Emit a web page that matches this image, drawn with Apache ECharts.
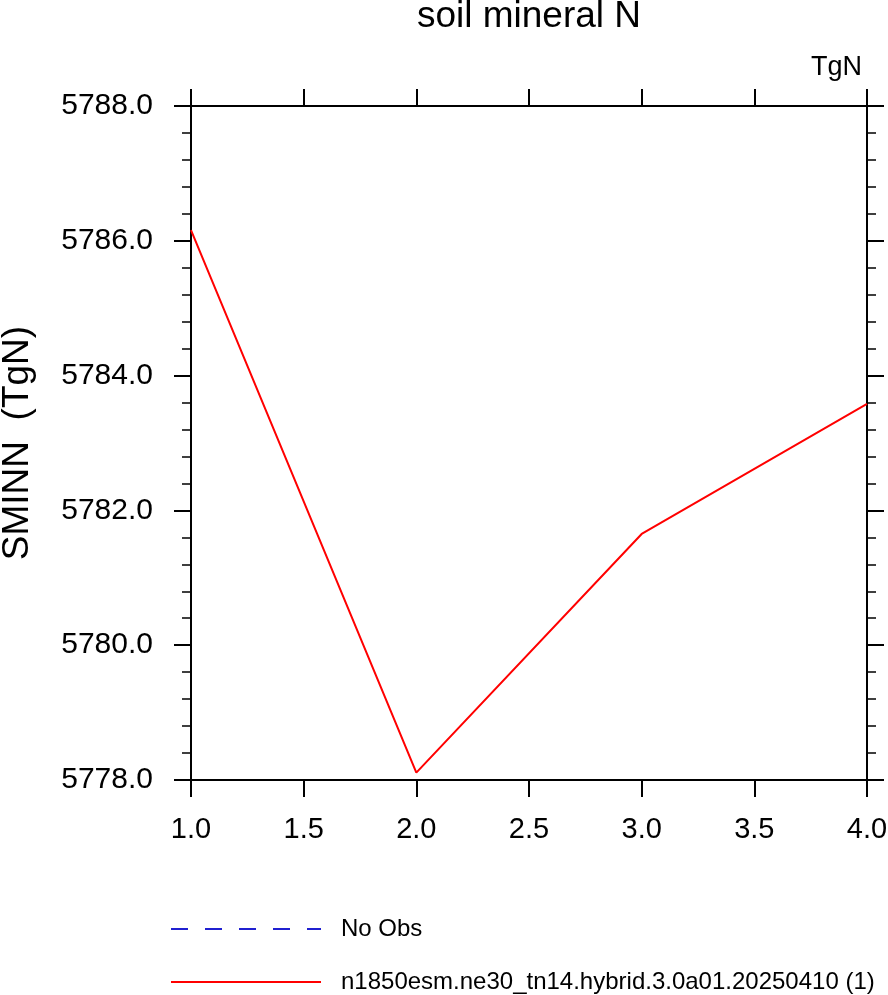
<!DOCTYPE html>
<html>
<head>
<meta charset="utf-8">
<script src="https://cdn.jsdelivr.net/npm/echarts@6/dist/echarts.min.js"></script>
<style>html,body{margin:0;padding:0;background:#fff}#c{width:888px;height:995px}</style>
</head>
<body>
<div id="c"></div>
<script>
var xValues = [1, 2, 3, 4];
var sminnValues = [5786.16, 5778.11, 5781.65, 5783.58];
var obsValues = [];
var seriesNames = ['No Obs', 'n1850esm.ne30_tn14.hybrid.3.0a01.20250410 (1)'];
var titleText = 'soil mineral N';
var unitText = 'TgN';
var yAxisName = 'SMINN  (TgN)';

var FONT = 'Liberation Sans, Arial, Helvetica, sans-serif';
var chart = echarts.init(document.getElementById('c'));
var axisLine = {show: true, lineStyle: {color: '#000', width: 2}};
var tick = {show: true, inside: false, length: 17, lineStyle: {color: '#000', width: 2}};
var minorTick = {show: true, splitNumber: 5, length: 9, lineStyle: {color: '#000', width: 1.5}};
var fmt1 = function (v) { return v.toFixed(1); };
var legendBase = {orient: 'horizontal', left: 170, itemWidth: 150, itemHeight: 20, padding: 0,
  itemStyle: {opacity: 0},
  textStyle: {fontFamily: FONT, fontSize: 24, color: '#000', padding: [0, 0, 0, 15]}};

chart.setOption({
  animation: false,
  backgroundColor: '#fff',
  title: {text: titleText, left: 529, textAlign: 'center', top: -2, padding: 0,
    textStyle: {fontFamily: FONT, fontSize: 37, fontWeight: 'normal', color: '#000'}},
  graphic: [{type: 'text', right: 26, top: 54,
    style: {text: unitText, font: '27px ' + FONT, fill: '#000'}}],
  grid: {left: 191, right: 21, top: 106, bottom: 215, containLabel: false, outerBoundsMode: 'none'},
  legend: [
    Object.assign({}, legendBase, {top: 917, data: [seriesNames[0]]}),
    Object.assign({}, legendBase, {top: 970, data: [seriesNames[1]]})
  ],
  xAxis: [{type: 'value', min: 1, max: 4, interval: 0.5, position: 'bottom',
    axisLine: axisLine, axisTick: tick, splitLine: {show: false},
    axisLabel: {formatter: fmt1, margin: 35, fontFamily: FONT, fontSize: 29, color: '#000'}},
    {type: 'value', min: 1, max: 4, interval: 0.5, position: 'top',
    axisLine: axisLine, axisTick: tick, splitLine: {show: false}, axisLabel: {show: false}}],
  yAxis: [{type: 'value', min: 5778, max: 5788, interval: 2, position: 'left',
    name: yAxisName, nameLocation: 'middle', nameGap: 155, nameRotate: 90,
    nameTextStyle: {fontFamily: FONT, fontSize: 37, color: '#000'},
    axisLine: axisLine, axisTick: tick, minorTick: minorTick, splitLine: {show: false}, minorSplitLine: {show: false},
    axisLabel: {formatter: fmt1, margin: 38, fontFamily: FONT, fontSize: 30, color: '#000'}},
    {type: 'value', min: 5778, max: 5788, interval: 2, position: 'right',
    axisLine: axisLine, axisTick: tick, minorTick: minorTick, splitLine: {show: false}, minorSplitLine: {show: false},
    axisLabel: {show: false}}],
  series: [
    {name: seriesNames[0], type: 'line', symbol: 'none', data: obsValues,
      itemStyle: {color: '#2020d0'}, lineStyle: {color: '#2020d0', width: 1.5, type: [17, 17]}},
    {name: seriesNames[1], type: 'line', symbol: 'none',
      data: xValues.map(function (x, i) { return [x, sminnValues[i]]; }),
      itemStyle: {color: '#ff0000'}, lineStyle: {color: '#ff0000', width: 2}}
  ]
});
</script>
</body>
</html>
